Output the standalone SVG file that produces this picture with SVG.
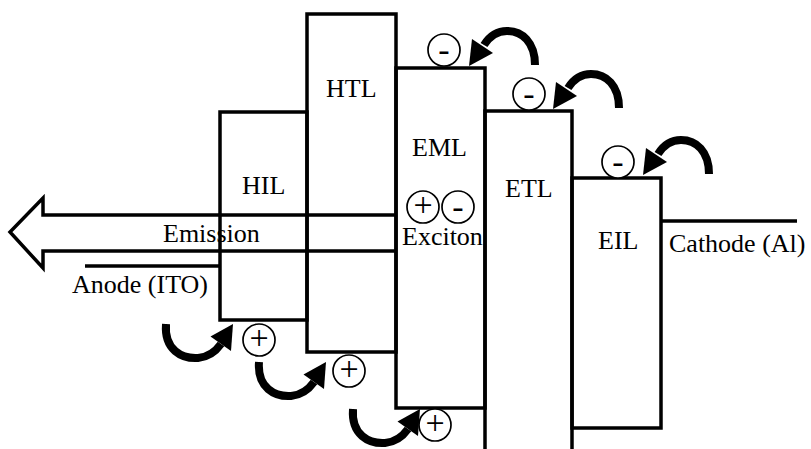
<svg xmlns="http://www.w3.org/2000/svg" width="811" height="449" viewBox="0 0 811 449">
<style>
.box{fill:none;stroke:#000;stroke-width:3.5}
.lbl{font-family:"Liberation Serif","Times New Roman",serif;font-size:26px;fill:#000}
.chg{fill:#fff;stroke:#000;stroke-width:1.7}
.sym{font-family:"Liberation Serif","Times New Roman",serif;font-size:34px;fill:#000;text-anchor:middle}
.shaft{fill:none;stroke:#000;stroke-width:8}
.head{fill:#000}
.wire{fill:none;stroke:#000;stroke-width:3.5}
</style>
<defs>
<g id="holeArrow">
<path class="shaft" d="M166,324 C164,350 182,359 198,358 C209,357 216,351 221,344"/>
<polygon class="head" points="210.5,336.5 233,324 231,351"/>
</g>
<g id="elecArrow">
<path class="shaft" d="M535,65 C535,42 522,31 507,31 C496,31 489,37 484,45"/>
<polygon class="head" points="493,53 469,66 472,39"/>
</g>
</defs>
<rect x="0" y="0" width="811" height="449" fill="#fff"/>

<g id="HIL"><rect class="box" x="220" y="112" width="87" height="208"/><text class="lbl" x="242" y="194">HIL</text></g>
<g id="HTL"><rect class="box" x="307" y="14" width="89" height="338"/><text class="lbl" x="326" y="97">HTL</text></g>
<g id="EML"><rect class="box" x="396" y="68" width="89" height="340"/><text class="lbl" x="412" y="156">EML</text></g>
<g id="ETL"><path class="box" d="M485,452 V111 H572 V452"/><text class="lbl" x="505" y="197">ETL</text></g>
<g id="EIL"><rect class="box" x="572" y="178" width="89" height="250"/><text class="lbl" x="598" y="249">EIL</text></g>

<g id="anode"><line class="wire" x1="85" y1="266" x2="220" y2="266"/><text class="lbl" x="72" y="293">Anode (ITO)</text></g>
<g id="cathode"><line class="wire" x1="661" y1="221" x2="797" y2="221"/><text class="lbl" x="669" y="252">Cathode (Al)</text></g>

<g id="exciton">
<circle class="chg" cx="423" cy="207" r="16"/><text class="sym" x="423" y="216">+</text>
<circle class="chg" cx="458" cy="207" r="16"/><text class="sym" x="458" y="218">-</text>
<text class="lbl" x="402" y="245">Exciton</text>
</g>

<g id="holes">
<circle class="chg" cx="259" cy="340" r="16"/><text class="sym" x="259" y="349">+</text>
<circle class="chg" cx="349" cy="371" r="16"/><text class="sym" x="349" y="380">+</text>
<circle class="chg" cx="435" cy="425" r="16"/><text class="sym" x="435" y="434">+</text>
</g>
<g id="electrons">
<circle class="chg" cx="444" cy="50" r="16"/><text class="sym" x="444" y="61">-</text>
<circle class="chg" cx="529" cy="94" r="16"/><text class="sym" x="529" y="105">-</text>
<circle class="chg" cx="618" cy="162" r="16"/><text class="sym" x="618" y="173">-</text>
</g>

<g id="connectors">
<g id="emission">
<path d="M396,215 H43 V198 L10,232 L43,268 V251 H396" fill="none" stroke="#000" stroke-width="3.5" stroke-linejoin="miter"/>
<text class="lbl" x="163" y="242">Emission</text>
</g>
<use href="#holeArrow"/>
<use href="#holeArrow" transform="translate(93,38)"/>
<use href="#holeArrow" transform="translate(187,85)"/>
<use href="#elecArrow"/>
<use href="#elecArrow" transform="translate(84,43)"/>
<use href="#elecArrow" transform="translate(174,109)"/>
</g>
</svg>
